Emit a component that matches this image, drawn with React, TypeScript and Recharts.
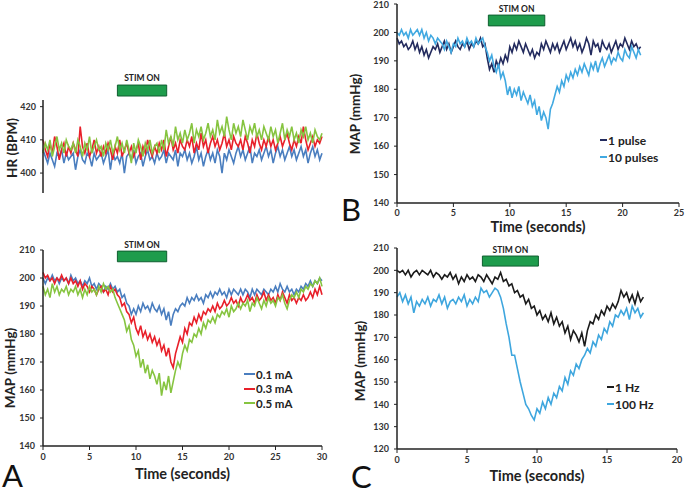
import React from "react";
import { LineChart, Line, XAxis, YAxis, ReferenceArea, Label, Legend } from "recharts";

const FONT = "Lato, 'Open Sans', sans-serif";
const NARROW = "'Liberation Sans Narrow', Lato, sans-serif";
const INK = "#222";

// panel A top: heart rate (BPM), one sample every 0.25 s
const HR_STEP = 0.25;
const hr01 = [
  407, 405, 403, 406, 404, 402, 406, 405, 407, 403, 406, 404, 405,
  406, 401, 405, 407, 404, 403, 406, 405, 402, 406, 404, 405,
  406, 403, 405, 407, 401, 406, 404, 405, 403, 406, 400, 405,
  406, 404, 407, 403, 405, 406, 402, 405, 407, 404, 405, 403,
  406, 404, 405, 407, 403, 406, 405, 404, 407, 402, 406, 405,
  407, 404, 406, 403, 405, 408, 404, 406, 402, 405, 407, 404,
  406, 403, 407, 405, 400, 406, 404, 407, 405, 403, 406, 408,
  405, 407, 404, 406, 408, 403, 406, 405, 407, 404, 406, 408,
  405, 407, 403, 406, 408, 405, 407, 404, 406, 408, 405, 407,
  404, 406, 408, 405, 407, 403, 406, 408, 405, 407, 404, 406,
];
const hr03 = [
  410, 407, 405, 409, 406, 411, 408, 404, 407, 409, 405, 408, 406,
  409, 407, 405, 414, 408, 406, 409, 405, 407, 410, 406, 408,
  405, 408, 406, 409, 407, 404, 408, 406, 410, 405, 407, 409,
  406, 408, 405, 407, 409, 404, 408, 406, 410, 407, 405, 408,
  406, 409, 407, 410, 405, 408, 411, 407, 409, 406, 410, 408,
  407, 410, 408, 411, 406, 409, 407, 412, 408, 410, 406, 409,
  411, 408, 410, 407, 409, 412, 408, 410, 407, 411, 409, 408,
  410, 407, 411, 409, 406, 410, 408, 412, 409, 407, 410, 408,
  411, 408, 410, 407, 409, 411, 408, 410, 412, 409, 407, 410,
  408, 411, 409, 414, 410, 407, 409, 411, 408, 410, 409, 411,
];
const hr05 = [
  406, 409, 407, 410, 405, 408, 411, 407, 409, 406, 410, 408, 407,
  409, 406, 410, 408, 405, 409, 407, 411, 406, 408, 410, 407,
  408, 405, 409, 407, 410, 406, 408, 411, 407, 409, 406, 410,
  407, 403, 409, 406, 410, 408, 405, 409, 407, 410, 406, 408,
  409, 406, 410, 407, 413, 409, 411, 408, 414, 410, 412, 409,
  413, 410, 412, 415, 409, 413, 411, 414, 410, 412, 415, 411,
  413, 410, 416, 412, 414, 411, 417, 413, 410, 415, 412, 414,
  411, 416, 413, 410, 414, 412, 415, 411, 413, 410, 414, 412,
  410, 414, 411, 413, 409, 412, 415, 410, 413, 411, 414, 410,
  412, 409, 413, 411, 414, 410, 412, 409, 413, 411, 410, 412,
];

// panel A bottom: MAP (mmHg) by stimulus current, every 0.25 s
const MAP_A_STEP = 0.25;
const mapA01 = [
  200, 198, 200, 199, 201, 199, 200, 198, 200, 199, 200, 198, 201,
  199, 200, 198, 199, 197, 199, 198, 200, 197, 198, 196, 198,
  197, 195, 197, 196, 198, 196, 197, 195, 196, 193, 194, 191,
  190, 187, 189, 187, 190, 188, 191, 189, 190, 188, 191, 189,
  188, 190, 187, 189, 185, 188, 183, 187, 189, 188, 190, 191,
  190, 193, 191, 193, 192, 194, 192, 193, 191, 194, 193, 195,
  193, 195, 194, 196, 194, 195, 193, 196, 194, 196, 195, 194,
  196, 194, 196, 195, 193, 196, 194, 196, 195, 194, 196, 195,
  194, 196, 195, 197, 195, 198, 196, 195, 197, 195, 196, 194,
  196, 195, 197, 196, 198, 197, 199, 197, 199, 198, 200, 199,
];
const mapA03 = [
  202, 200, 201, 199, 200, 198, 200, 199, 201, 199, 200, 198, 200,
  198, 199, 197, 199, 196, 198, 197, 195, 197, 196, 194, 196,
  197, 195, 196, 194, 197, 195, 196, 194, 193, 190, 191, 188,
  187, 184, 186, 182, 180, 183, 179, 181, 178, 180, 177, 179,
  176, 178, 174, 176, 172, 175, 170, 168, 173, 176, 179, 177,
  182, 180, 184, 183, 186, 184, 187, 185, 188, 187, 189, 188,
  190, 188, 191, 189, 190, 192, 190, 191, 193, 191, 192, 190,
  193, 191, 192, 194, 192, 193, 191, 194, 192, 193, 195, 192,
  194, 192, 193, 191, 194, 192, 195, 193, 191, 194, 192, 193,
  191, 193, 192, 194, 192, 193, 195, 193, 196, 194, 197, 194,
];
const mapA05 = [
  197, 194, 196, 193, 198, 195, 197, 194, 196, 195, 197, 194, 196,
  195, 197, 194, 196, 193, 196, 194, 197, 195, 196, 194, 197,
  195, 198, 196, 197, 195, 196, 193, 191, 189, 187, 185, 181,
  183, 178, 176, 172, 174, 168, 171, 166, 169, 164, 167, 165,
  162, 166, 158, 163, 160, 165, 159, 163, 167, 170, 168, 173,
  176, 174, 178, 177, 180, 179, 182, 180, 184, 182, 185, 184,
  186, 184, 187, 186, 188, 187, 189, 186, 190, 188, 189, 191,
  189, 191, 190, 192, 188, 191, 190, 193, 191, 189, 192, 190,
  193, 191, 192, 190, 193, 192, 194, 191, 189, 192, 194, 193,
  195, 193, 196, 195, 197, 196, 198, 197, 199, 198, 200, 197,
];

// panel B: MAP by pulse count, every 0.2 s
const MAP_B_STEP = 0.2;
const mapB1 = [
  198, 196, 197, 195, 196, 194, 195, 197, 194, 196,
  193, 195, 192, 194, 191, 193, 195, 194, 196, 193,
  195, 197, 194, 196, 193, 195, 197, 195, 194, 196,
  195, 197, 194, 196, 195, 197, 196, 198, 195, 196,
  191, 187, 189, 186, 190, 188, 191, 189, 192, 190,
  195, 193, 196, 194, 197, 195, 193, 196, 194, 192,
  194, 191, 193, 192, 196, 194, 197, 195, 193, 196,
  194, 196, 193, 195, 197, 194, 196, 198, 195, 197,
  194, 196, 193, 195, 198, 196, 192, 197, 195, 196,
  193, 197, 195, 194, 196, 193, 195, 197, 194, 196,
  195, 198, 196, 194, 197, 195, 196, 194, 195,
];
const mapB10 = [
  200, 199, 201, 199, 200, 198, 201, 199, 200, 201,
  199, 201, 198, 200, 197, 199, 198, 196, 198, 197,
  196, 194, 197, 195, 193, 196, 195, 198, 196, 197,
  195, 198, 196, 197, 195, 198, 196, 197, 198, 195,
  193, 190, 192, 188, 186, 189, 184, 186, 183, 178,
  181, 177, 180, 178, 181, 176, 179, 177, 175, 178,
  174, 176, 171, 174, 169, 172, 170, 166, 173, 175,
  178, 181, 179, 183, 181, 185, 183, 186, 184, 187,
  185, 188, 186, 189, 187, 185, 189, 187, 190, 186,
  189, 191, 188, 190, 192, 189, 191, 190, 193, 191,
  190, 194, 192, 191, 195, 193, 191, 194, 192,
];

// panel C: MAP by stimulus frequency, every 0.2 s
const MAP_C_STEP = 0.2;
const mapC1 = [
  200, 199, 200, 198, 200, 197, 199, 200, 198, 200,
  199, 198, 200, 197, 199, 198, 196, 198, 197, 199,
  196, 198, 194, 197, 195, 198, 196, 197, 195, 198,
  197, 195, 198, 196, 194, 197, 196, 199, 195, 196,
  193, 194, 190, 191, 188, 189, 185, 187, 183, 184,
  180, 182, 178, 180, 177, 181, 176, 179, 175, 177,
  172, 175, 169, 173, 171, 168, 172, 166, 173, 177,
  176, 180, 178, 182, 180, 184, 182, 185, 183, 186,
  191, 188, 190, 186, 189, 185, 190, 186, 188,
];
const mapC100 = [
  188, 190, 186, 189, 185, 188, 181, 186, 184, 187,
  185, 188, 184, 187, 186, 189, 185, 188, 183, 186,
  187, 185, 188, 186, 189, 184, 187, 185, 188, 186,
  192, 190, 191, 188, 190, 192, 191, 188, 183, 176,
  170, 162, 162, 156, 150, 145, 140, 138, 135, 133,
  138, 136, 141, 138, 143, 140, 145, 143, 148, 146,
  152, 149, 155, 153, 158, 156, 160, 162, 165, 163,
  168, 166, 171, 169, 174, 172, 177, 175, 180, 179,
  182, 180, 183, 178, 184, 181, 183, 179, 181,
];

// stimulation windows (seconds)
const STIM_A = [8, 13.3];
const STIM_B = [8.1, 13.1];
const STIM_C = [6.1, 10.1];

function toRows(step: number, series: Record<string, number[]>) {
  const keys = Object.keys(series);
  const n = series[keys[0]].length;
  const rows: Record<string, number>[] = [];
  for (let i = 0; i < n; i++) {
    const row: Record<string, number> = { t: +(i * step).toFixed(2) };
    keys.forEach((k) => (row[k] = series[k][i]));
    rows.push(row);
  }
  return rows;
}

const hrRows = toRows(HR_STEP, { a: hr01, b: hr03, c: hr05 });
const mapARows = toRows(MAP_A_STEP, { a: mapA01, b: mapA03, c: mapA05 });
const mapBRows = toRows(MAP_B_STEP, { a: mapB1, b: mapB10 });
const mapCRows = toRows(MAP_C_STEP, { a: mapC1, b: mapC100 });

const tickStyle = { fontSize: 9, fontWeight: 700, fill: "#333", fontFamily: FONT };
const axisLine = { stroke: INK, strokeWidth: 1.5 };
const tickLine = { stroke: INK, strokeWidth: 1 };
const titleProps = { fontSize: 13.5, fontWeight: 700, fill: INK, fontFamily: FONT, style: { fontWeight: 700 } };
const stimLabel = { fontSize: 8.5, fontWeight: 700, fill: INK, fontFamily: NARROW };

function legendRenderer(lineW: number, rowH: number, fontSize: number) {
  return (props: any) => (
    <div style={{ fontFamily: FONT, fontWeight: 700, fontSize, color: INK }}>
      {(props.payload || []).map((e: any) => (
        <div key={e.value} style={{ height: rowH, display: "flex", alignItems: "center", whiteSpace: "nowrap" }}>
          <span style={{ display: "inline-block", width: lineW, height: 2, background: e.color, marginRight: 1 }} />
          {e.value}
        </div>
      ))}
    </div>
  );
}

const panelLetter = (left: number, top: number, text: string) => (
  <div
    style={{
      position: "absolute",
      left,
      top,
      fontFamily: FONT,
      fontSize: 31,
      lineHeight: 1,
      color: "#111",
    }}
  >
    {text}
  </div>
);

export default function App() {
  return (
    <div style={{ position: "absolute", left: 0, top: 0, width: 685, height: 494, background: "#fff" }}>
      {/* A: heart rate */}
      <div style={{ position: "absolute", left: 0, top: 0 }}>
        <LineChart width={340} height={200} data={hrRows} margin={{ top: 100, right: 18, bottom: 7, left: 0 }}>
          <XAxis dataKey="t" type="number" domain={[0, 30]} hide />
          <YAxis
            type="number"
            domain={[394, 422]}
            ticks={[400, 410, 420]}
            width={43}
            tick={tickStyle}
            axisLine={axisLine}
            tickLine={tickLine}
            tickSize={3}
            tickMargin={4}
          >
            <Label value="HR (BPM)" angle={-90} position="center" dx={-9.5} dy={1.5} {...titleProps} />
          </YAxis>
          <ReferenceArea x1={STIM_A[0]} x2={STIM_A[1]} y1={423.2} y2={426.5} ifOverflow="visible" fill="#1e9c4c" fillOpacity={1} stroke="#0f5f30">
            <Label value="STIM ON" position="top" offset={4} {...stimLabel} />
          </ReferenceArea>
          <Line dataKey="a" stroke="#4a7ebf" strokeWidth={1.6} dot={false} activeDot={false} isAnimationActive={false} />
          <Line dataKey="b" stroke="#e8202a" strokeWidth={1.6} dot={false} activeDot={false} isAnimationActive={false} />
          <Line dataKey="c" stroke="#86c440" strokeWidth={1.6} dot={false} activeDot={false} isAnimationActive={false} />
        </LineChart>
      </div>

      {/* A: MAP vs current */}
      <div style={{ position: "absolute", left: 0, top: 240 }}>
        <LineChart width={340} height={254} data={mapARows} margin={{ top: 10, right: 18, bottom: 6, left: 0 }}>
          <XAxis
            dataKey="t"
            type="number"
            domain={[0, 30]}
            ticks={[0, 5, 10, 15, 20, 25, 30]}
            height={42}
            tick={tickStyle}
            axisLine={axisLine}
            tickLine={tickLine}
            tickSize={4}
            tickMargin={4}
          >
            <Label value="Time (seconds)" position="insideBottom" offset={9} {...titleProps} fontSize={14.5} />
          </XAxis>
          <YAxis
            type="number"
            domain={[140, 210]}
            ticks={[140, 150, 160, 170, 180, 190, 200, 210]}
            width={43}
            tick={tickStyle}
            axisLine={axisLine}
            tickLine={tickLine}
            tickSize={3}
            tickMargin={5}
          >
            <Label value="MAP (mmHg)" angle={-90} position="center" dx={-11} dy={20} {...titleProps} />
          </YAxis>
          <ReferenceArea x1={STIM_A[0]} x2={STIM_A[1]} y1={205.8} y2={209.6} ifOverflow="visible" fill="#1e9c4c" fillOpacity={1} stroke="#0f5f30">
            <Label value="STIM ON" position="top" offset={3} {...stimLabel} />
          </ReferenceArea>
          <Legend layout="vertical" align="center" verticalAlign="middle" wrapperStyle={{ left: 244, top: 127 }} content={legendRenderer(11, 14.5, 11.5)} />
          <Line name="0.1 mA" dataKey="a" stroke="#4a7ebf" strokeWidth={1.6} dot={false} activeDot={false} isAnimationActive={false} />
          <Line name="0.3 mA" dataKey="b" stroke="#e8202a" strokeWidth={1.6} dot={false} activeDot={false} isAnimationActive={false} />
          <Line name="0.5 mA" dataKey="c" stroke="#86c440" strokeWidth={1.6} dot={false} activeDot={false} isAnimationActive={false} />
        </LineChart>
      </div>

      {/* B: MAP vs pulse count */}
      <div style={{ position: "absolute", left: 340, top: 0 }}>
        <LineChart width={345} height={240} data={mapBRows} margin={{ top: 4, right: 6, bottom: 3, left: 0 }}>
          <XAxis
            dataKey="t"
            type="number"
            domain={[0, 25]}
            ticks={[0, 5, 10, 15, 20, 25]}
            height={34}
            tick={tickStyle}
            axisLine={axisLine}
            tickLine={tickLine}
            tickSize={4}
            tickMargin={3}
          >
            <Label value="Time (seconds)" position="insideBottom" offset={5} {...titleProps} fontSize={14.5} />
          </XAxis>
          <YAxis
            type="number"
            domain={[140, 210]}
            ticks={[140, 150, 160, 170, 180, 190, 200, 210]}
            width={57}
            tick={tickStyle}
            axisLine={axisLine}
            tickLine={tickLine}
            tickSize={3}
            tickMargin={5}
          >
            <Label value="MAP (mmHg)" angle={-90} position="center" dx={-13.5} dy={10.5} {...titleProps} />
          </YAxis>
          <ReferenceArea x1={STIM_B[0]} x2={STIM_B[1]} y1={202.3} y2={206.1} ifOverflow="visible" fill="#1e9c4c" fillOpacity={1} stroke="#0f5f30">
            <Label value="STIM ON" position="top" offset={3} {...stimLabel} />
          </ReferenceArea>
          <Legend layout="vertical" align="center" verticalAlign="middle" wrapperStyle={{ left: 260, top: 131.5 }} content={legendRenderer(7, 17, 12)} />
          <Line name="1 pulse" dataKey="a" stroke="#232b5e" strokeWidth={1.6} dot={false} activeDot={false} isAnimationActive={false} />
          <Line name="10 pulses" dataKey="b" stroke="#41a9e1" strokeWidth={1.6} dot={false} activeDot={false} isAnimationActive={false} />
        </LineChart>
      </div>

      {/* C: MAP vs frequency */}
      <div style={{ position: "absolute", left: 340, top: 240 }}>
        <LineChart width={345} height={254} data={mapCRows} margin={{ top: 8, right: 8, bottom: 3, left: 0 }}>
          <XAxis
            dataKey="t"
            type="number"
            domain={[0, 20]}
            ticks={[0, 5, 10, 15, 20]}
            height={42}
            tick={tickStyle}
            axisLine={axisLine}
            tickLine={tickLine}
            tickSize={4}
            tickMargin={4}
          >
            <Label value="Time (seconds)" position="insideBottom" offset={10} {...titleProps} fontSize={14.5} />
          </XAxis>
          <YAxis
            type="number"
            domain={[120, 210]}
            ticks={[120, 130, 140, 150, 160, 170, 180, 190, 200, 210]}
            width={57}
            tick={tickStyle}
            axisLine={axisLine}
            tickLine={tickLine}
            tickSize={3}
            tickMargin={5}
          >
            <Label value="MAP (mmHg)" angle={-90} position="center" dx={-8} dy={12.5} {...titleProps} />
          </YAxis>
          <ReferenceArea x1={STIM_C[0]} x2={STIM_C[1]} y1={201.9} y2={206.4} ifOverflow="visible" fill="#1e9c4c" fillOpacity={1} stroke="#0f5f30">
            <Label value="STIM ON" position="top" offset={3} {...stimLabel} />
          </ReferenceArea>
          <Legend layout="vertical" align="center" verticalAlign="middle" wrapperStyle={{ left: 267, top: 138.5 }} content={legendRenderer(7, 17, 12)} />
          <Line name="1 Hz" dataKey="a" stroke="#1b1b1b" strokeWidth={1.6} dot={false} activeDot={false} isAnimationActive={false} />
          <Line name="100 Hz" dataKey="b" stroke="#3ea6de" strokeWidth={1.6} dot={false} activeDot={false} isAnimationActive={false} />
        </LineChart>
      </div>

      {panelLetter(2, 460, "A")}
      {panelLetter(341, 194, "B")}
      {panelLetter(351, 461, "C")}
    </div>
  );
}
